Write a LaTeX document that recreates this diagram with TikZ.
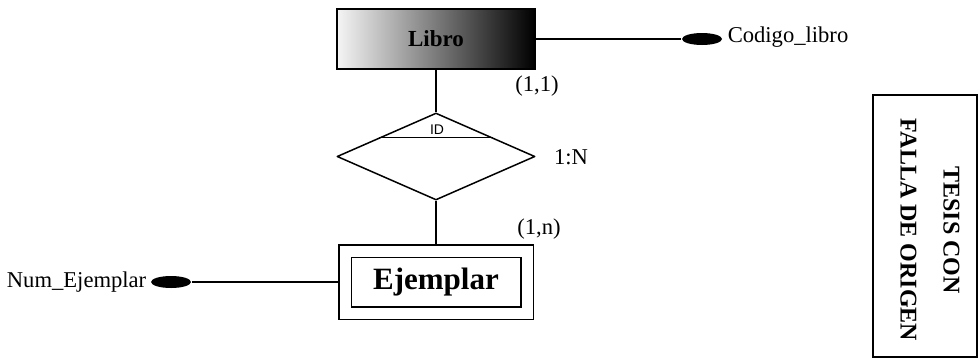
\documentclass[tikz,border=0pt]{standalone}
\usepackage{fontspec}
\setmainfont{Liberation Serif}
\newfontfamily\idfont{Liberation Sans}
\usetikzlibrary{shapes.geometric,calc}

\begin{document}
\begin{tikzpicture}[x=0.5pt,y=-0.5pt,line join=round,line width=0.75pt,
    ent/.style={draw,line join=miter,minimum width=99pt,minimum height=30pt,inner sep=0pt},
    attr/.style={ellipse,fill=black,minimum width=20pt,minimum height=6pt,inner sep=0pt},
    lbl/.style={font=\fontsize{11.3}{13}\selectfont,inner sep=0pt}]
  \useasboundingbox (0,0) rectangle (978,359);
  % entidades
  \node[ent,left color=gray!8,middle color=gray!45,right color=black,
        font=\fontsize{11.5}{13}\selectfont\bfseries] (libro) at (436,39) {Libro};
  \node[ent,double,double distance=5.5pt,outer sep=3.5pt,minimum width=91pt,
        minimum height=31pt,font=\fontsize{15.5}{17}\selectfont\bfseries] (ejemplar) at (436,282) {Ejemplar};
  % relacion
  \node[diamond,draw,aspect=2.28,minimum width=99pt,minimum height=43.5pt,
        inner sep=0pt] (rel) at (436,156.5) {};
  \draw ($(rel.north)!0.575!(rel.west)$) -- ($(rel.north)!0.575!(rel.east)$);
  \node[font=\idfont\fontsize{7}{8}\selectfont,inner sep=0pt] (idtxt) at (437,130) {ID};
  % atributos
  \node[attr] (cod) at (702,39) {};
  \node[attr] (num) at (171,282) {};
  \node[lbl,anchor=west] (codtxt) at (727,37) {Codigo\_libro};
  \node[lbl,anchor=east] (numtxt) at (147,282) {Num\_Ejemplar};
  \draw (libro.east) -- (cod.west);
  \draw (num.east) -- (ejemplar.west);
  \draw (libro) -- (rel);
  \draw (rel) -- (ejemplar);
  % cardinalidades
  \node[lbl] (card1) at (537,86) {(1,1)};
  \node[lbl] (cardn) at (539,229) {(1,n)};
  \node[lbl] (tipo) at (571,157) {1:N};
  % sello
  \draw[line width=1pt,line join=miter] (873,95) rectangle (977,357);
  \node[rotate=-90,align=center,font=\fontsize{12}{21.5}\selectfont\bfseries]
    (sello) at (930,230) {TESIS CON\\FALLA DE ORIGEN};
\end{tikzpicture}
\end{document}
